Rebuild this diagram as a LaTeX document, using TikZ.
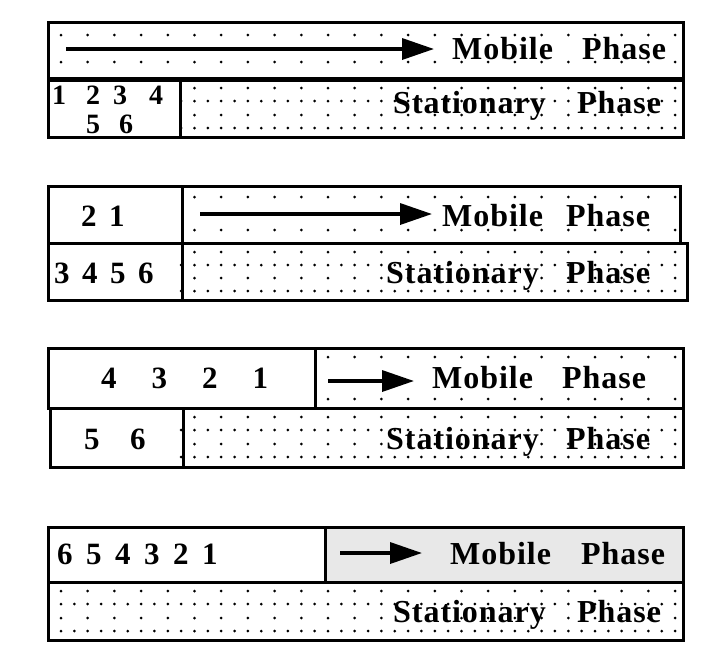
\documentclass[tikz,border=0pt]{standalone}
\usepackage{fontspec}
\setmainfont{Liberation Serif}
\newfontfamily\lblfont[LetterSpace=3]{Liberation Serif}
\usetikzlibrary{arrows.meta}
\newcommand\dotline[4]{\foreach \k in {#1,...,#2} {\fill (61+#4*\k,#3) circle (1.5pt);}}
\newcommand\dg[2]{\makebox[#1][l]{#2}}
\begin{document}
\begin{tikzpicture}[x=1pt,y=-1pt,
  box/.style={line width=3pt},
  lbl/.style={font=\fontsize{32}{36}\selectfont\lblfont\bfseries, inner sep=0pt, anchor=base west},
  num/.style={font=\fontsize{31}{35}\selectfont\bfseries, inner sep=0pt, anchor=base west},
  smallnum/.style={font=\fontsize{28}{32}\selectfont\bfseries, inner sep=0pt, anchor=base west},
  flow/.style={line width=3.5pt,-{Triangle[length=32pt,width=21pt]}}]
\useasboundingbox[fill=white] (0,0) rectangle (719,657);
% ---------- panel 1
\dotline{0}{23}{35}{26.7}
\dotline{0}{23}{62}{26.7}
\dotline{5}{23}{88}{26.7}
\dotline{9}{46}{101}{13.35}
\dotline{5}{23}{115}{26.7}
\dotline{9}{46}{128}{13.35}
\draw[box] (48,22) rectangle (683,137);
\draw[line width=5pt] (48,79) -- (683,79);
\draw[box] (180,79) -- (180,137);
\coordinate (a1s) at (66,49); \coordinate (a1e) at (434,49);
\draw[flow] (a1s) -- (a1e);
\node[lbl] (m1) at (452,59) {\rlap{Mobile}\hspace{130pt}Phase};
\node[lbl] (s1) at (393,113) {\rlap{Stationary}\hspace{184pt}Phase};
\node[smallnum] (n1a) at (52,104) {\dg{34pt}{1}\dg{27pt}{2}\dg{36pt}{3}4};
\node[smallnum] (n1b) at (86,133) {\dg{33pt}{5}6};
% ---------- panel 2
\dotline{5}{23}{197}{26.7}
\dotline{5}{23}{230}{26.7}
\dotline{5}{23}{252}{26.7}
\dotline{9}{46}{265}{13.35}
\dotline{5}{23}{278}{26.7}
\dotline{9}{46}{291}{13.35}
\draw[box] (48,186) rectangle (680,243);
\draw[box] (48,243) rectangle (687,300);
\draw[box] (182,186) -- (182,300);
\coordinate (a2s) at (200,214); \coordinate (a2e) at (432,214);
\draw[flow] (a2s) -- (a2e);
\node[lbl] (m2) at (442,226) {\rlap{Mobile}\hspace{124pt}Phase};
\node[lbl] (s2) at (386,283) {\rlap{Stationary}\hspace{180pt}Phase};
\node[num] (n2a) at (81,226) {\dg{28pt}{2}1};
\node[num] (n2b) at (54,283) {\dg{28pt}{3}\dg{28pt}{4}\dg{28pt}{5}6};
% ---------- panel 3
\dotline{10}{23}{357}{26.7}
\dotline{10}{23}{399}{26.7}
\dotline{5}{23}{417}{26.7}
\dotline{9}{46}{430}{13.35}
\dotline{5}{23}{444}{26.7}
\dotline{9}{46}{457}{13.35}
\draw[box] (48,348) rectangle (683,408);
\draw[box] (50,408) rectangle (683,467);
\draw[box] (315,348) -- (315,408);
\draw[box] (183,408) -- (183,467);
\coordinate (a3s) at (328,381); \coordinate (a3e) at (414,381);
\draw[flow] (a3s) -- (a3e);
\node[lbl] (m3) at (432,388) {\rlap{Mobile}\hspace{130pt}Phase};
\node[lbl] (s3) at (386,449) {\rlap{Stationary}\hspace{180pt}Phase};
\node[num] (n3a) at (101,388) {\dg{50.5pt}{4}\dg{50.5pt}{3}\dg{50.5pt}{2}1};
\node[num] (n3b) at (84,449) {\dg{46pt}{5}6};
% ---------- panel 4
\fill[gray!18] (325,527) rectangle (683,582);
\dotline{0}{23}{591}{26.7}
\dotline{0}{46}{604}{13.35}
\dotline{0}{23}{618}{26.7}
\dotline{0}{46}{631}{13.35}
\draw[box] (48,527) rectangle (683,640);
\draw[box] (48,582) -- (683,582);
\draw[box] (325,527) -- (325,582);
\coordinate (a4s) at (340,553); \coordinate (a4e) at (422,553);
\draw[flow] (a4s) -- (a4e);
\node[lbl] (m4) at (450,564) {\rlap{Mobile}\hspace{131pt}Phase};
\node[lbl] (s4) at (393,622) {\rlap{Stationary}\hspace{184pt}Phase};
\node[num] (n4a) at (57,564) {\dg{29pt}{6}\dg{29pt}{5}\dg{29pt}{4}\dg{29pt}{3}\dg{29pt}{2}1};
\end{tikzpicture}
\end{document}
